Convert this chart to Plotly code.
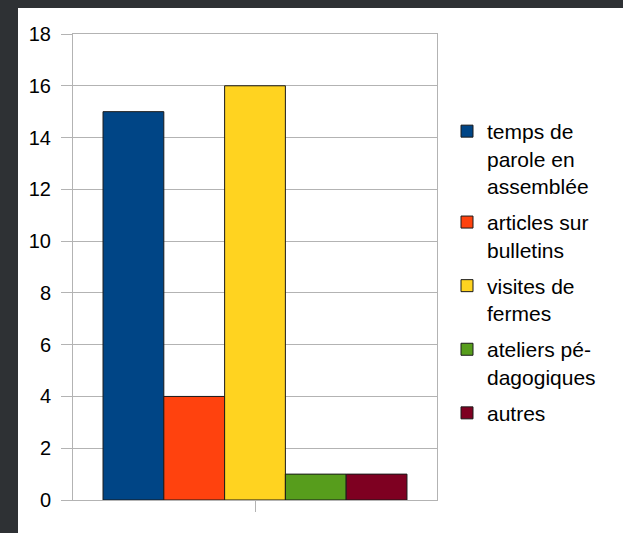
import plotly.graph_objects as go

series_names = ["temps de<br>parole en<br>assemblée", "articles sur<br>bulletins",
                "visites de<br>fermes", "ateliers pé-<br>dagogiques", "autres"]
values = [15, 4, 16, 1, 1]
colors = ["#004586", "#ff420e", "#ffd320", "#579d1c", "#7e0021"]
category = [""]
y_ticks = [0, 2, 4, 6, 8, 10, 12, 14, 16, 18]

FONT = "Liberation Sans, Arial, sans-serif"
W, H = 623, 533
L, R, T, B = 73, 437, 34, 500

fig = go.Figure()
for i, (name, v, c) in enumerate(zip(series_names, values, colors)):
    fig.add_trace(go.Bar(x=category, y=[v], name=name, legendgroup=f"g{i}",
                         marker=dict(color=c, line=dict(color="#1a1a1a", width=1))))

pw, ph = R - L, B - T
fig.add_shape(type="rect", xref="paper", yref="paper",
              x0=(18 - L) / pw, x1=(W + 20 - L) / pw,
              y0=(B - (H + 20)) / ph, y1=(B - 8) / ph,
              fillcolor="white", line=dict(width=0), layer="below")

fig.update_layout(
    width=W, height=H,
    margin=dict(l=L, r=W - R, t=T, b=H - B, pad=0),
    paper_bgcolor="#2e3134", plot_bgcolor="white",
    barmode="group", bargap=0.165, bargroupgap=0,
    font=dict(family=FONT, size=21, color="black"),
    showlegend=True,
    legend=dict(x=(447 - L) / pw, xanchor="left", y=(B - 111) / ph, yanchor="top",
                valign="top", bgcolor="rgba(0,0,0,0)", tracegroupgap=6,
                font=dict(family=FONT, size=21, color="black")),
    xaxis=dict(showline=True, linecolor="#b3b3b3", linewidth=1, mirror=True,
               ticks="outside", ticklen=11, tickcolor="#b3b3b3",
               showticklabels=False, showgrid=False, zeroline=False),
    yaxis=dict(range=[0, 18], tickvals=y_ticks, showline=True, linecolor="#b3b3b3",
               linewidth=1, mirror=True, ticks="outside", ticklen=11,
               tickcolor="#b3b3b3", showgrid=True, gridcolor="#b3b3b3",
               zeroline=False, ticklabelstandoff=6,
               tickfont=dict(family=FONT, size=20, color="black")),
)
fig.write_html("out.html", config={"displayModeBar": False},
               post_script="document.body.style.margin='0';"
                           "document.body.style.background='#2e3134';")
